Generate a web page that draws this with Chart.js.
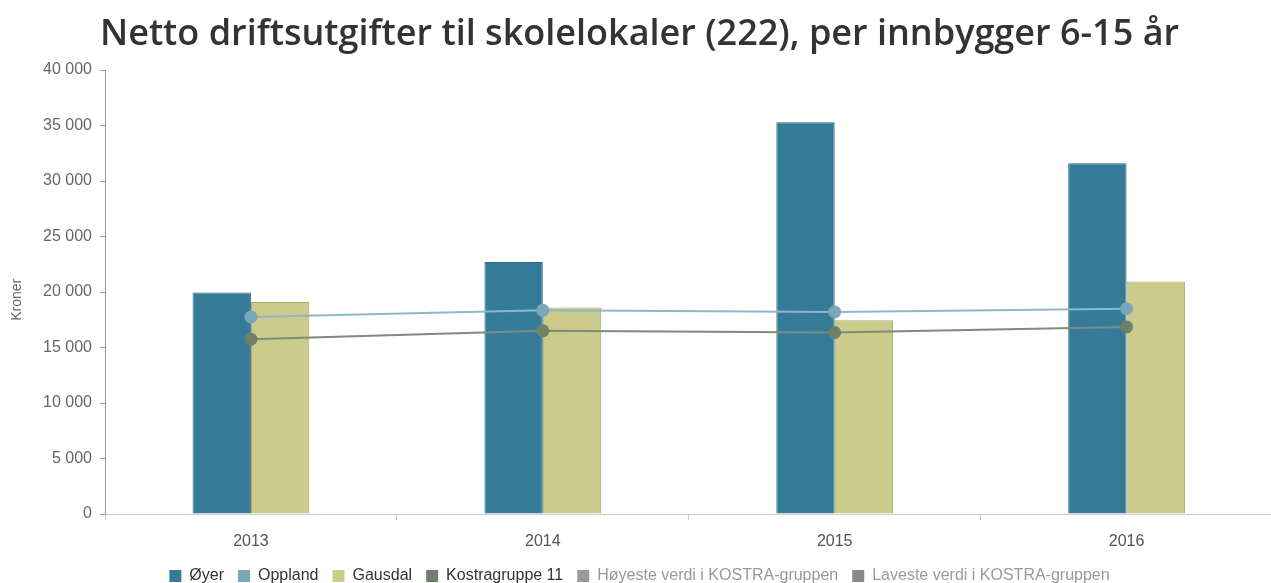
<!DOCTYPE html>
<html>
<head>
<meta charset="utf-8">
<script src="https://cdn.jsdelivr.net/npm/chart.js@4.4.1/dist/chart.umd.min.js"></script>
<style>
  html, body { margin: 0; padding: 0; background: #fff; overflow: hidden; }
  #wrap { position: relative; width: 1279px; height: 583px; }
</style>
</head>
<body>
<div id="wrap"><canvas id="c"></canvas></div>
<script>
const categories = ['2013', '2014', '2015', '2016'];
const oyerValues = [19950, 22700, 35300, 31600];
const opplandValues = [17750, 18350, 18200, 18500];
const gausdalValues = [19100, 18600, 17450, 20950];
const kostraValues = [15750, 16500, 16350, 16850];
const hoyesteValues = [];
const lavesteValues = [];
const yTickValues = [0, 5000, 10000, 15000, 20000, 25000, 30000, 35000, 40000];

const fmt = v => String(v).replace(/\B(?=(\d{3})+(?!\d))/g, ' ');

const legendColors = {
  'Øyer': '#367a99',
  'Oppland': '#78a7b9',
  'Gausdal': '#cbcb8b',
  'Kostragruppe 11': '#6e7f6b',
  'Høyeste verdi i KOSTRA-gruppen': '#9a9a9a',
  'Laveste verdi i KOSTRA-gruppen': '#8a8a8a'
};

new Chart(document.getElementById('c'), {
  data: {
    labels: categories,
    datasets: [
      { type: 'bar', label: 'Øyer', data: oyerValues, backgroundColor: '#367a99', borderColor: '#2e6d8a', borderWidth: 1, order: 2 },
      { type: 'line', label: 'Oppland', data: opplandValues, borderColor: '#8fb7c6', backgroundColor: '#78a7b9', borderWidth: 2, pointRadius: 6.5, pointBorderWidth: 0, pointBackgroundColor: '#78a7b9', order: 1 },
      { type: 'bar', label: 'Gausdal', data: gausdalValues, backgroundColor: '#cbcb8b', borderColor: '#a9a96c', borderWidth: 1, order: 2 },
      { type: 'line', label: 'Kostragruppe 11', data: kostraValues, borderColor: '#7d8d7a', backgroundColor: '#6e7f6b', borderWidth: 2, pointRadius: 6.5, pointBorderWidth: 0, pointBackgroundColor: '#6e7f6b', order: 0 },
      { type: 'line', label: 'Høyeste verdi i KOSTRA-gruppen', data: hoyesteValues, hidden: true, borderColor: '#9a9a9a', backgroundColor: '#9a9a9a' },
      { type: 'line', label: 'Laveste verdi i KOSTRA-gruppen', data: lavesteValues, hidden: true, borderColor: '#8a8a8a', backgroundColor: '#8a8a8a' }
    ]
  },
  options: {
    responsive: true,
    maintainAspectRatio: false,
    animation: false,
    layout: { padding: { left: 0, right: 0, top: 0, bottom: -11 } },
    datasets: { bar: { categoryPercentage: 0.4, barPercentage: 1.0 } },
    plugins: {
      title: {
        display: true,
        text: 'Netto driftsutgifter til skolelokaler (222), per innbygger 6-15 år',
        color: '#333333',
        font: { family: 'Open Sans', size: 36, weight: '600' },
        padding: { top: 13.5, bottom: 13.3 }
      },
      tooltip: { enabled: false },
      legend: {
        position: 'bottom',
        onClick: null,
        labels: {
          boxWidth: 12,
          boxHeight: 12,
          padding: 14,
          color: '#333333',
          font: { family: 'Liberation Sans', size: 16 },
          generateLabels: chart => chart.data.datasets.map((ds, i) => {
            const grey = i >= 4;
            return {
              text: ds.label,
              fillStyle: legendColors[ds.label],
              strokeStyle: legendColors[ds.label],
              lineWidth: 0,
              hidden: false,
              fontColor: grey ? '#999999' : '#333333',
              datasetIndex: i
            };
          })
        }
      }
    },
    scales: {
      x: {
        offset: true,
        grid: { display: true, drawOnChartArea: false, drawTicks: true, tickLength: 6, color: '#cccccc', offset: true },
        border: { display: true, color: '#cccccc', width: 1 },
        ticks: { color: '#555555', font: { family: 'Liberation Sans', size: 16 }, padding: 12 },
        afterFit: s => { s.height -= 9.2; }
      },
      y: {
        min: 0,
        max: 40000,
        afterBuildTicks: axis => { axis.ticks = yTickValues.map(v => ({ value: v })); },
        afterFit: s => { s.width = 105; },
        grid: { display: true, drawOnChartArea: false, drawTicks: true, tickLength: 5, color: '#999999' },
        border: { display: true, color: '#999999', width: 1 },
        ticks: { color: '#666666', font: { family: 'Liberation Sans', size: 16 }, padding: 8, callback: v => fmt(v) },
        title: { display: true, text: 'Kroner    ', color: '#666666', font: { family: 'Liberation Sans', size: 14 }, padding: { top: 9, bottom: 0 } }
      }
    }
  }
});
</script>
</body>
</html>
